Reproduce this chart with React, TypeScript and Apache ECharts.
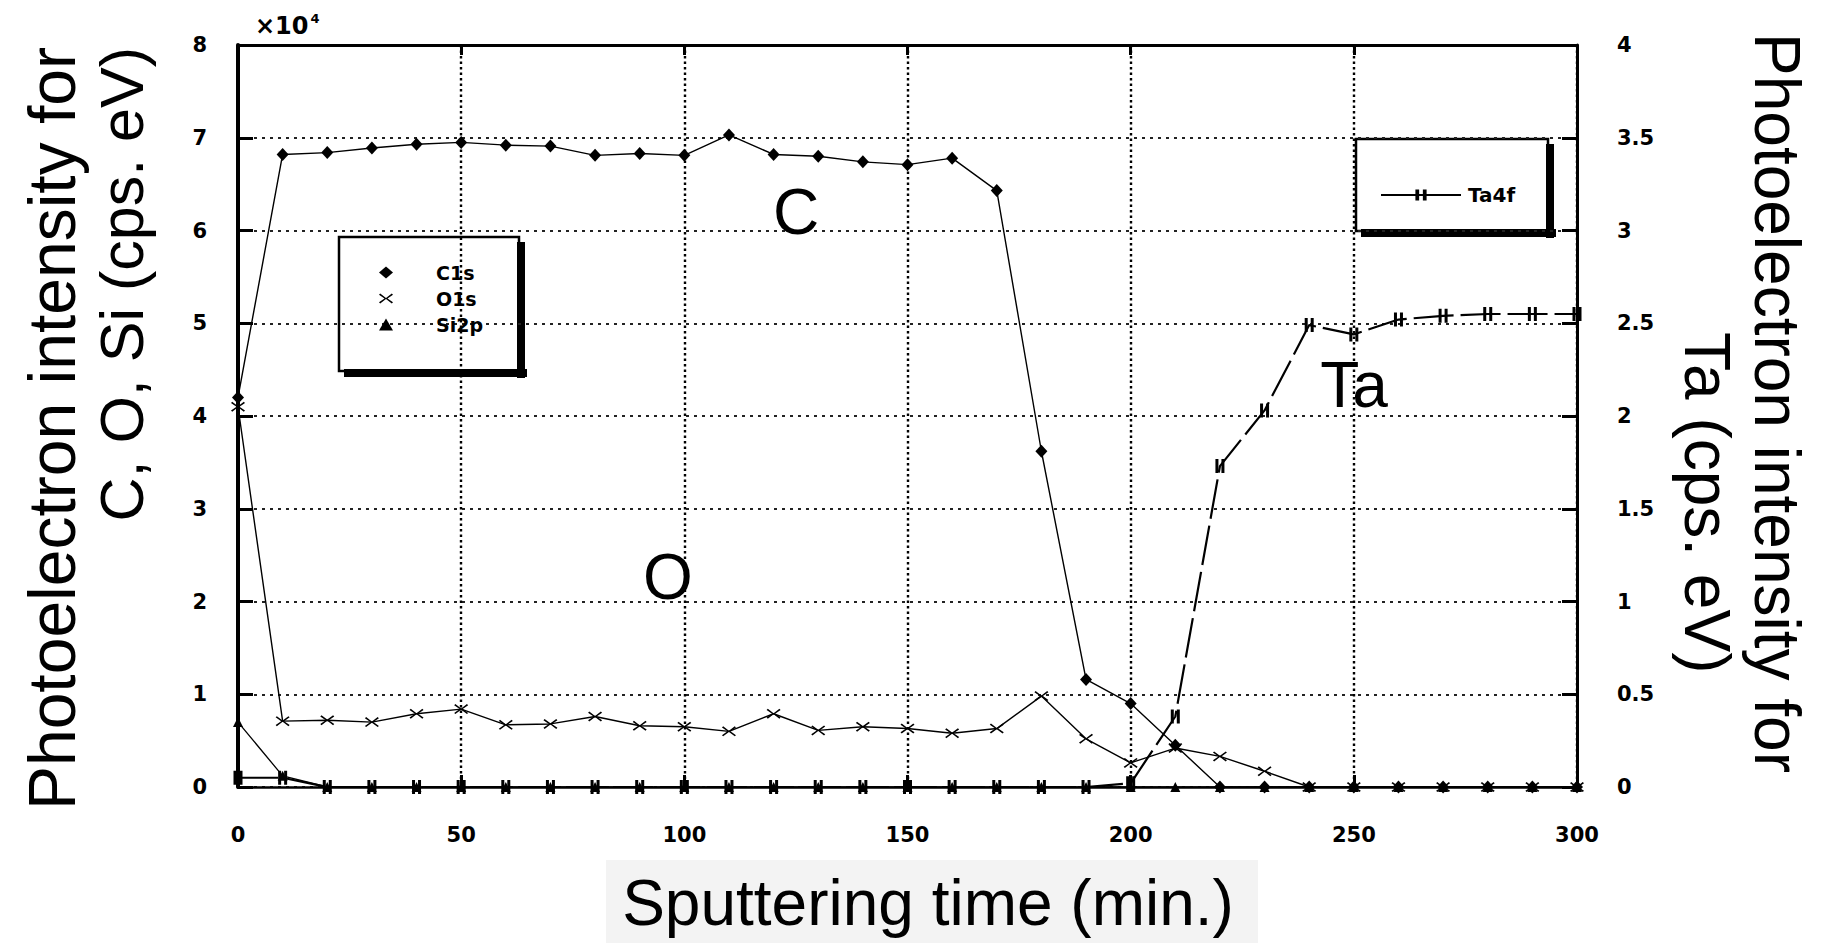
import React, { useEffect, useRef } from "react";
import * as echarts from "echarts";

// Sputtering time (min.)
const times = [
  0, 10, 20, 30, 40, 50, 60, 70, 80, 90, 100, 110, 120, 130, 140, 150, 160,
  170, 180, 190, 200, 210, 220, 230, 240, 250, 260, 270, 280, 290, 300,
];

// C, O, Si intensities in units of 10^4 cps·eV (left axis)
const c1s = [
  4.2, 6.82, 6.84, 6.89, 6.93, 6.95, 6.92, 6.91, 6.81, 6.83, 6.81, 7.03, 6.82,
  6.8, 6.74, 6.71, 6.78, 6.43, 3.62, 1.16, 0.9, 0.45, 0, 0, 0, 0, 0, 0, 0, 0, 0,
];
const o1s = [
  4.1, 0.71, 0.72, 0.7, 0.79, 0.84, 0.67, 0.68, 0.76, 0.66, 0.65, 0.6, 0.79,
  0.61, 0.65, 0.63, 0.58, 0.63, 0.98, 0.52, 0.26, 0.42, 0.33, 0.17, 0, 0, 0, 0,
  0, 0, 0,
];
const si2p = [
  0.7, 0.12, 0, 0, 0, 0, 0, 0, 0, 0, 0, 0, 0, 0, 0, 0, 0, 0, 0, 0, 0, 0, 0, 0,
  0, 0, 0, 0, 0, 0, 0,
];

// Ta intensity (right axis)
const ta4f = [
  0.05, 0.05, 0, 0, 0, 0, 0, 0, 0, 0, 0, 0, 0, 0, 0, 0, 0, 0, 0, 0, 0.02, 0.38,
  1.73, 2.03, 2.49, 2.44, 2.52, 2.54, 2.55, 2.55, 2.55,
];

const FONT = '"Liberation Sans", Arial, Helvetica, sans-serif';
const BOLD_FONT = '"DejaVu Sans", Verdana, sans-serif';
const BLACK = "#000";

const crossSymbol =
  "path://M0,1.2L1.2,0L7,4.4L12.8,0L14,1.2L8.5,5L14,8.8L12.8,10L7,5.6L1.2,10L0,8.8L5.5,5Z";
const barsSymbol = "path://M0,0h3v14h-3z M6,0h3v14h-3z";

const pairs = (vals: number[]) => times.map((t, i) => [t, vals[i]]);

const tickLabel = {
  color: BLACK,
  fontFamily: BOLD_FONT,
  fontWeight: "bold" as const,
  fontSize: 21,
};

function legendFrame(x: number, y: number, w: number, h: number) {
  return {
    type: "group",
    z: 5,
    children: [
      {
        type: "rect",
        shape: { x, y, width: w, height: h },
        style: { fill: "#fff", stroke: BLACK, lineWidth: 2.5 },
      },
      {
        type: "rect",
        shape: { x: x + w - 2, y: y + 5, width: 8, height: h + 2 },
        style: { fill: BLACK },
      },
      {
        type: "rect",
        shape: { x: x + 5, y: y + h - 2, width: w + 3, height: 8 },
        style: { fill: BLACK },
      },
    ],
  };
}

function bigText(
  text: string,
  x: number,
  y: number,
  rotation: number,
  align: "left" | "right" | "center",
  size = 64
) {
  return {
    type: "text",
    x,
    y,
    rotation,
    z: 20,
    style: {
      text,
      fill: BLACK,
      font: `${size}px ${FONT}`,
      align,
      verticalAlign: "middle",
    },
  };
}

export default function App() {
  const ref = useRef<HTMLDivElement>(null);

  useEffect(() => {
    if (!ref.current) return;
    const chart = echarts.init(ref.current, undefined, { renderer: "svg" });

    const legendText = {
      color: BLACK,
      fontFamily: BOLD_FONT,
      fontWeight: "bold",
      fontSize: 19,
    };

    const option = {
      animation: false,
      backgroundColor: "#fff",
      grid: { left: 238, right: 250, top: 45, bottom: 156, containLabel: false },
      xAxis: [
        {
          type: "value",
          min: 0,
          max: 300,
          interval: 50,
          position: "bottom",
          axisLine: { show: true, onZero: false, lineStyle: { color: BLACK, width: 2.5 } },
          axisTick: { show: true, inside: true, length: 12, lineStyle: { color: BLACK, width: 3 } },
          axisLabel: { ...tickLabel, margin: 37 },
          splitLine: { show: true, lineStyle: { color: "#000", width: 2.4, type: [2.5, 3] } },
        },
        {
          type: "value",
          min: 0,
          max: 300,
          interval: 50,
          position: "top",
          axisLine: { show: true, onZero: false, lineStyle: { color: BLACK, width: 3 } },
          axisTick: { show: true, inside: true, length: 10, lineStyle: { color: BLACK, width: 3 } },
          axisLabel: { show: false },
          splitLine: { show: false },
        },
      ],
      yAxis: [
        {
          type: "value",
          min: 0,
          max: 8,
          interval: 1,
          position: "left",
          axisLine: { show: true, onZero: false, lineStyle: { color: BLACK, width: 4 } },
          axisTick: { show: true, inside: true, length: 15, lineStyle: { color: BLACK, width: 3 } },
          axisLabel: { ...tickLabel, margin: 31 },
          splitLine: { show: true, lineStyle: { color: "#222", width: 1.8, type: [3, 5] } },
        },
        {
          type: "value",
          min: 0,
          max: 4,
          interval: 0.5,
          position: "right",
          axisLine: { show: true, onZero: false, lineStyle: { color: BLACK, width: 3 } },
          axisTick: { show: true, inside: true, length: 15, lineStyle: { color: BLACK, width: 3 } },
          axisLabel: { ...tickLabel, margin: 40 },
          splitLine: { show: false },
        },
      ],
      legend: [
        {
          data: [
            { name: "C1s", icon: "diamond" },
            { name: "O1s", icon: crossSymbol },
            { name: "Si2p", icon: "triangle" },
          ],
          orient: "vertical",
          left: 379,
          top: 263,
          itemWidth: 14,
          itemHeight: 12,
          itemGap: 7,
          padding: 0,
          z: 10,
          selectedMode: false,
          textStyle: { ...legendText, padding: [0, 0, 0, 38] },
        },
        {
          data: ["Ta4f"],
          left: 1380,
          top: 185,
          itemWidth: 80,
          itemHeight: 14,
          padding: 0,
          z: 10,
          selectedMode: false,
          lineStyle: { type: "solid", width: 2 },
          textStyle: { ...legendText, fontSize: 20, padding: [0, 0, 0, 2] },
        },
      ],
      graphic: [
        legendFrame(339, 237, 180, 134),
        legendFrame(1356, 139, 192, 92),
        {
          type: "text",
          x: 255,
          y: 26,
          z: 20,
          style: {
            text: "×10{s|4}",
            fill: BLACK,
            font: `bold 24px ${BOLD_FONT}`,
            verticalAlign: "middle",
            rich: {
              s: { fontSize: 13, fontWeight: "bold", fontFamily: BOLD_FONT, padding: [0, 0, 16, 2] },
            },
          },
        },
        bigText("Photoelectron intensity for", 52, 47, Math.PI / 2, "right", 66),
        bigText("C, O, Si (cps. eV)", 122, 47, Math.PI / 2, "right", 61),
        bigText("Photoelectron intensity for", 1777, 33, -Math.PI / 2, "left"),
        bigText("Ta (cps. eV)", 1707, 332, -Math.PI / 2, "left"),
        {
          type: "rect",
          z: 15,
          shape: { x: 606, y: 860, width: 652, height: 83 },
          style: { fill: "#f3f3f3" },
        },
        bigText("Sputtering time (min.)", 928, 903, 0, "center"),
        bigText("C", 796, 212, 0, "center"),
        bigText("O", 668, 577, 0, "center"),
        bigText("Ta", 1354, 385, 0, "center"),
      ],
      series: [
        {
          name: "Ta4f",
          type: "line",
          xAxisIndex: 0,
          yAxisIndex: 1,
          data: pairs(ta4f),
          symbol: barsSymbol,
          symbolSize: [9, 14],
          showAllSymbol: true,
          lineStyle: { color: BLACK, width: 2.2, type: [40, 7] },
          itemStyle: { color: BLACK },
          z: 2,
        },
        {
          name: "Si2p",
          type: "line",
          xAxisIndex: 0,
          yAxisIndex: 0,
          data: pairs(si2p),
          symbol: "triangle",
          symbolSize: 10,
          showAllSymbol: true,
          lineStyle: { color: BLACK, width: 1.3 },
          itemStyle: { color: BLACK },
          z: 3,
        },
        {
          name: "O1s",
          type: "line",
          xAxisIndex: 0,
          yAxisIndex: 0,
          data: pairs(o1s),
          symbol: crossSymbol,
          symbolSize: [14, 10],
          showAllSymbol: true,
          lineStyle: { color: BLACK, width: 1.4 },
          itemStyle: { color: BLACK },
          z: 4,
        },
        {
          name: "C1s",
          type: "line",
          xAxisIndex: 0,
          yAxisIndex: 0,
          data: pairs(c1s),
          symbol: "diamond",
          symbolSize: [12, 13],
          showAllSymbol: true,
          lineStyle: { color: BLACK, width: 1.4 },
          itemStyle: { color: BLACK },
          z: 5,
        },
      ],
    };

    chart.setOption(option as any);
    return () => chart.dispose();
  }, []);

  return (
    <div
      ref={ref}
      style={{ position: "fixed", left: 0, top: 0, width: 1827, height: 943, background: "#fff" }}
    />
  );
}
